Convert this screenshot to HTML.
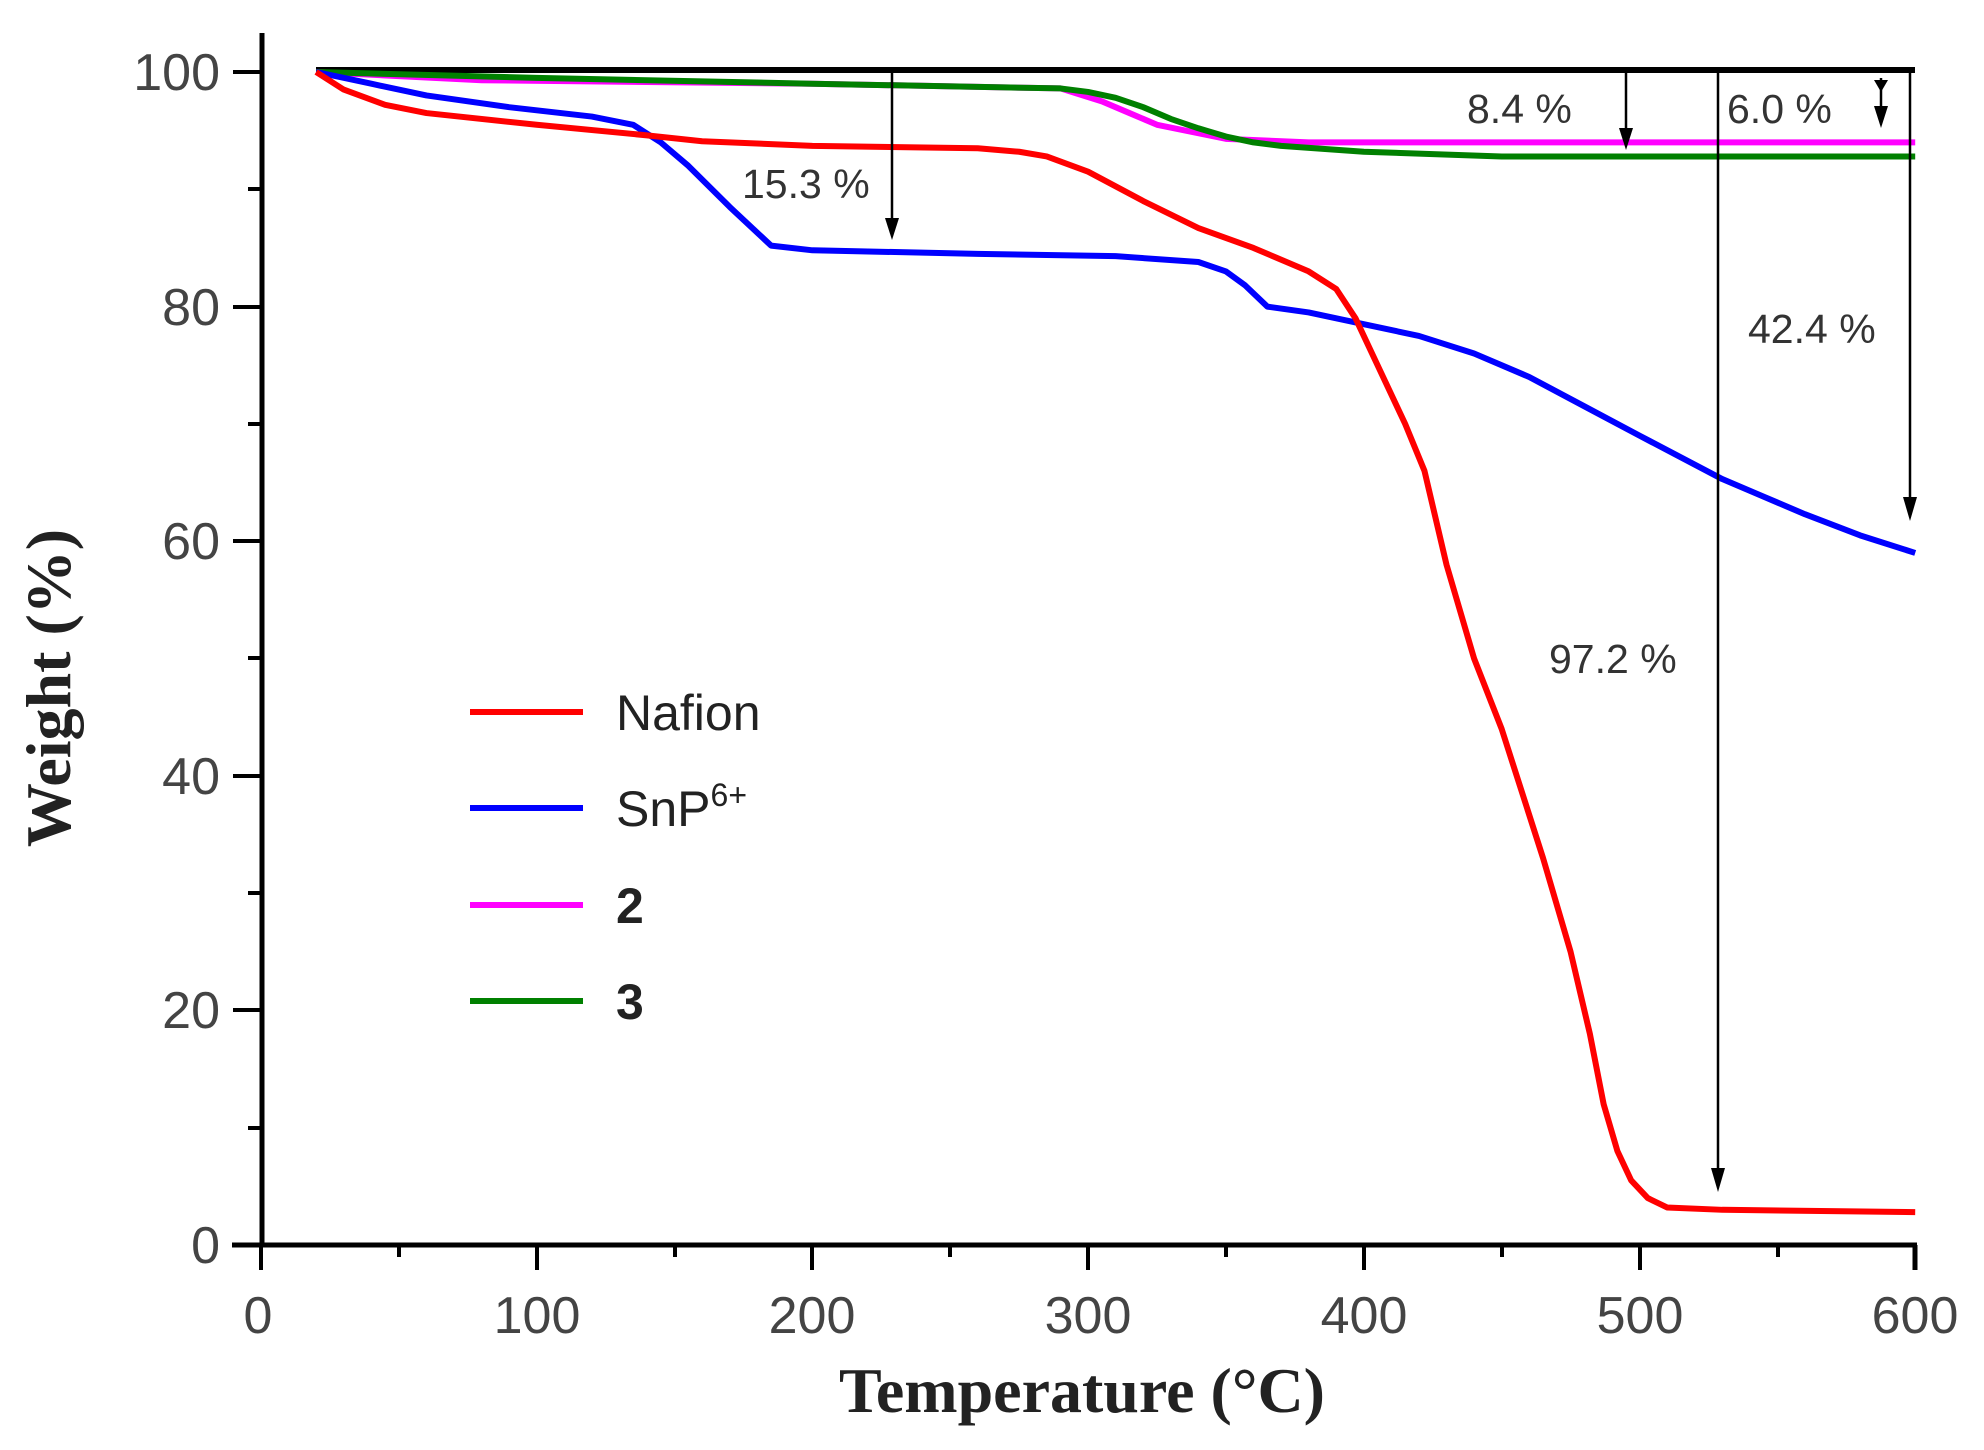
<!DOCTYPE html>
<html><head><meta charset="utf-8"><style>
html,body{margin:0;padding:0;background:#fff;width:1984px;height:1450px;overflow:hidden}
</style></head><body>
<svg width="1984" height="1450" xmlns="http://www.w3.org/2000/svg" font-family="Liberation Sans, sans-serif">
<!-- axes -->
<g stroke="#000" stroke-width="5" fill="none">
<line x1="262" y1="33" x2="262" y2="1247"/>
<line x1="232" y1="1245" x2="1917" y2="1245"/>
<line x1="1915" y1="1245" x2="1915" y2="1270"/>
</g>
<g stroke="#000" stroke-width="4">
<line x1="261" y1="1245" x2="261" y2="1270"/><line x1="537" y1="1245" x2="537" y2="1270"/><line x1="812" y1="1245" x2="812" y2="1270"/><line x1="1088" y1="1245" x2="1088" y2="1270"/><line x1="1364" y1="1245" x2="1364" y2="1270"/><line x1="1640" y1="1245" x2="1640" y2="1270"/>
<line x1="399" y1="1245" x2="399" y2="1257"/><line x1="675" y1="1245" x2="675" y2="1257"/><line x1="950" y1="1245" x2="950" y2="1257"/><line x1="1226" y1="1245" x2="1226" y2="1257"/><line x1="1502" y1="1245" x2="1502" y2="1257"/><line x1="1778" y1="1245" x2="1778" y2="1257"/>
<line x1="233" y1="72" x2="262" y2="72"/><line x1="233" y1="307" x2="262" y2="307"/><line x1="233" y1="541" x2="262" y2="541"/><line x1="233" y1="776" x2="262" y2="776"/><line x1="233" y1="1010" x2="262" y2="1010"/>
<line x1="248" y1="189" x2="262" y2="189"/><line x1="248" y1="424" x2="262" y2="424"/><line x1="248" y1="658" x2="262" y2="658"/><line x1="248" y1="893" x2="262" y2="893"/><line x1="248" y1="1128" x2="262" y2="1128"/>
</g>
<g font-size="52" fill="#444" text-anchor="middle">
<text x="258" y="1333">0</text><text x="537" y="1333">100</text><text x="812" y="1333">200</text><text x="1088" y="1333">300</text><text x="1364" y="1333">400</text><text x="1640" y="1333">500</text><text x="1915" y="1333">600</text>
</g>
<g font-size="52" fill="#444" text-anchor="end">
<text x="220" y="90">100</text><text x="220" y="325">80</text><text x="220" y="559">60</text><text x="220" y="794">40</text><text x="220" y="1028">20</text><text x="220" y="1263">0</text>
</g>
<text x="1082" y="1412" font-family="Liberation Serif, serif" font-weight="bold" font-size="64" text-anchor="middle" fill="#222">Temperature (°C)</text>
<text transform="translate(70,688) rotate(-90)" font-family="Liberation Serif, serif" font-weight="bold" font-size="64" text-anchor="middle" fill="#222">Weight (%)</text>
<!-- black 100 line -->
<line x1="316" y1="70" x2="1915" y2="70" stroke="#000" stroke-width="6"/>
<!-- curves -->
<g transform="translate(261,1245) scale(2.757,-11.73)" fill="none" stroke-width="6" stroke-linejoin="round">
<polyline vector-effect="non-scaling-stroke" stroke="#ff00ff" points="20,100 80,99.3 200,99 290,98.6 305,97.5 315,96.5 325,95.5 350,94.3 380,94 600,94"/>
<polyline vector-effect="non-scaling-stroke" stroke="#008000" points="20,100 100,99.5 200,99 290,98.6 300,98.3 310,97.8 320,97 330,96 340,95.2 350,94.5 360,94 370,93.7 400,93.2 450,92.8 600,92.8"/>
<polyline vector-effect="non-scaling-stroke" stroke="#0000ff" points="20,100 40,99 60,98 90,97 120,96.2 135,95.5 145,94 155,92 170,88.5 185,85.2 200,84.8 260,84.5 310,84.3 340,83.8 350,83 357,81.8 365,80 380,79.5 400,78.5 420,77.5 440,76 460,74 480,71.5 500,69 530,65.3 545,63.8 560,62.3 580,60.5 600,59"/>
<polyline vector-effect="non-scaling-stroke" stroke="#ff0000" points="20,100 30,98.5 45,97.2 60,96.5 100,95.5 140,94.6 160,94.1 200,93.7 260,93.5 275,93.2 285,92.8 300,91.5 320,89 340,86.7 360,85 380,83 390,81.5 397,79 405,75 415,70 422,66 430,58 440,50 450,44 465,33 475,25 482,18 487,12 492,8 497,5.5 503,4 510,3.2 530,3 600,2.8"/>
</g>
<!-- arrows -->
<g stroke="#000" stroke-width="2.5">
<line x1="892" y1="72" x2="892" y2="225"/>
<line x1="1626" y1="72" x2="1626" y2="135"/>
<line x1="1718" y1="72" x2="1718" y2="1175"/>
<line x1="1881" y1="78" x2="1881" y2="115"/>
<line x1="1910" y1="72" x2="1910" y2="505"/>
</g>
<g fill="#000">
<path d="M885,218 L899,218 L892,240 Z"/>
<path d="M1619,128 L1633,128 L1626,150 Z"/>
<path d="M1711,1168 L1725,1168 L1718,1192 Z"/>
<path d="M1874,106 L1888,106 L1881,128 Z"/>
<path d="M1874,80 L1888,80 L1881,92 Z"/>
<path d="M1903,497 L1917,497 L1910,521 Z"/>
</g>
<g font-size="41" fill="#333">
<text x="742" y="198">15.3 %</text>
<text x="1467" y="123">8.4 %</text>
<text x="1727" y="123">6.0 %</text>
<text x="1748" y="343">42.4 %</text>
<text x="1549" y="673">97.2 %</text>
</g>
<!-- legend -->
<g stroke-width="6">
<line x1="470" y1="712" x2="583" y2="712" stroke="#ff0000"/>
<line x1="470" y1="808" x2="583" y2="808" stroke="#0000ff"/>
<line x1="470" y1="905" x2="583" y2="905" stroke="#ff00ff"/>
<line x1="470" y1="1001" x2="583" y2="1001" stroke="#008000"/>
</g>
<g font-size="50" fill="#222">
<text x="616" y="730">Nafion</text>
<text x="616" y="826">SnP<tspan font-size="32" dy="-20">6+</tspan></text>
<text x="616" y="923" font-weight="bold">2</text>
<text x="616" y="1019" font-weight="bold">3</text>
</g>
</svg>
</body></html>
